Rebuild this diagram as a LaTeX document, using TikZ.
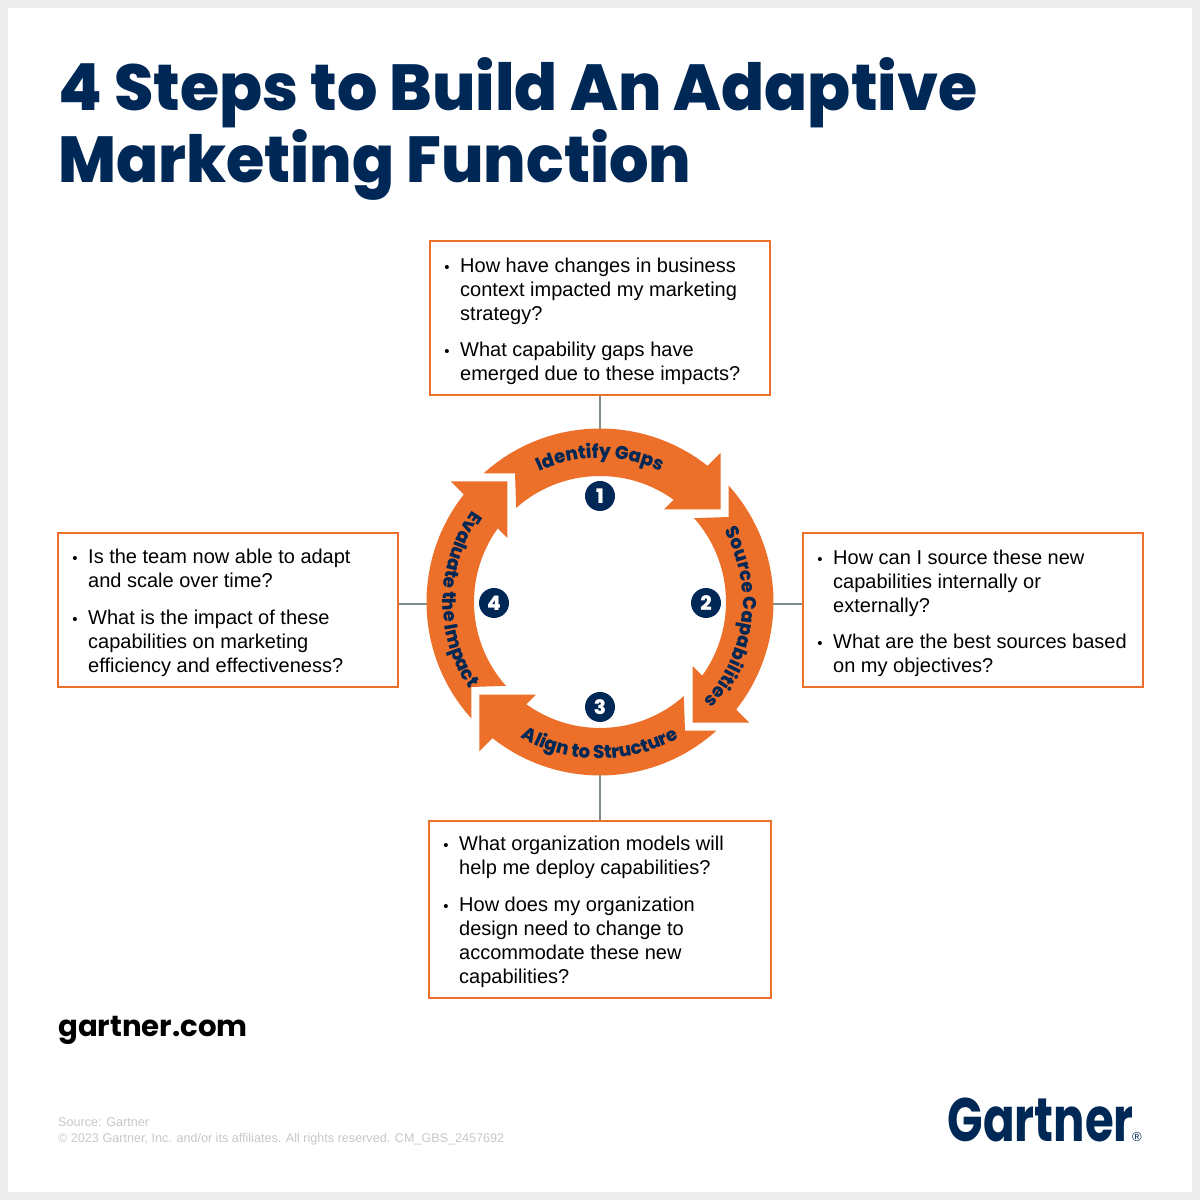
\documentclass[tikz,border=0pt]{standalone}
\usepackage{fontspec}
\usetikzlibrary{decorations.text}
\setmainfont{Liberation Sans}
\newfontfamily\heavy{Poppins}[UprightFont=*-ExtraBold]
\newfontfamily\bolder{Poppins}[UprightFont=*-Bold]
\newfontfamily\semi{Poppins}[UprightFont=*-SemiBold]
\newfontfamily\ringfont{Poppins}[UprightFont=*-ExtraBold,FakeStretch=0.98]
\definecolor{navy}{HTML}{002856}
\definecolor{orng}{HTML}{EC6F2A}
\definecolor{conn}{HTML}{7F8C8F}
\definecolor{foot}{HTML}{C6C8CA}
\definecolor{page}{HTML}{EDEDED}
\newcommand{\bl}{\llap{\scalebox{0.75}{•}\hspace{10.5pt}}}
\newcommand{\arrowshape}{(132.2:173.5) arc[start angle=132.2,end angle=51.7,radius=173.5] -- (120.7,149.3) -- (120.7,92.7) -- (64,92.7) -- (54.2:126) arc[start angle=54.2,end angle=131.7,radius=126] -- (-85,128.7) -- cycle}
\tikzset{
 x=1pt,y=1pt,
 qbox/.style={draw=orng,line width=1.6pt,fill=white,inner sep=0pt,minimum width=#1},
 qtext/.style={anchor=west,align=left,inner sep=0pt,text=black,font=\fontsize{20}{24}\selectfont},
 link/.style={draw=conn,line width=1.3pt},
 ringarrow/.style={fill=orng,draw=none},
 num/.style={circle,fill=navy,text=white,minimum size=30pt,inner sep=0pt,font=\heavy\fontsize{20}{20}\selectfont},
 arctext/.style={decoration={text along path,text align=center,text={|\ringfont\fontsize{18.5}{18.5}\selectfont\color{navy}|#1}},decorate},
}
\begin{document}
\begin{tikzpicture}
\useasboundingbox (0,0) rectangle (1200,1200);
\fill[page] (0,0) rectangle (1200,1200);
\fill[white] (8,8) rectangle (1192,1192);
% title
\node[anchor=base west,inner sep=0pt,text=navy] (t1) at (58,1089) {\scalebox{0.976}[1]{\heavy\fontsize{65}{65}\selectfont 4 Steps to Build An Adaptive}};
\node[anchor=base west,inner sep=0pt,text=navy] (t2) at (58,1017) {\scalebox{0.955}[1]{\heavy\fontsize{65}{65}\selectfont Marketing Function}};
% ring anchor coordinates
\coordinate (c) at (600,598);
\coordinate (ringN) at (600,771);
\coordinate (ringE) at (773,596);
\coordinate (ringS) at (600,425);
\coordinate (ringW) at (427,596);
% boxes
\node[qbox=340pt,minimum height=154pt] (top) at (600,882) {};
\node[qbox=340pt,minimum height=154pt] (right) at (973,590) {};
\node[qbox=340pt,minimum height=154pt] (left) at (228,590) {};
\node[qbox=342pt,minimum height=177pt] (bottom) at (600,290.5) {};
\node[qtext] (toptext) at (460,878.5) {\bl How have changes in business\\context impacted my marketing\\strategy?\\[12.5pt]\bl What capability gaps have\\emerged due to these impacts?};
\node[qtext] (righttext) at (833,586.5) {\bl How can I source these new\\capabilities internally or\\externally?\\[12.5pt]\bl What are the best sources based\\on my objectives?};
\node[qtext] (lefttext) at (88,587) {\bl Is the team now able to adapt\\and scale over time?\\[12.5pt]\bl What is the impact of these\\capabilities on marketing\\efficiency and effectiveness?};
\node[qtext] (bottomtext) at (459,288) {\bl What organization models will\\help me deploy capabilities?\\[12.5pt]\bl How does my organization\\design need to change to\\accommodate these new\\capabilities?};
% connectors
\draw[link] (top.south) -- (ringN);
\draw[link] (bottom.north) -- (ringS);
\draw[link] (left.east |- ringW) -- (ringW);
\draw[link] (right.west |- ringE) -- (ringE);
% ring
\begin{scope}[shift={(c)}]
\fill[ringarrow] \arrowshape;
\fill[ringarrow,rotate=-90] \arrowshape;
\fill[ringarrow,rotate=-180] \arrowshape;
\fill[ringarrow,rotate=-270] \arrowshape;
\path[arctext={Identify Gaps}] (120:144) arc[start angle=120,end angle=60,radius=144];
\path[arctext={Source Capabilities}] (42:143) arc[start angle=42,end angle=-56,radius=143];
\path[arctext={Align to Structure}] (-129:157) arc[start angle=-129,end angle=-51,radius=157];
\path[arctext={Evaluate the Impact}] (143:157) arc[start angle=143,end angle=215,radius=157];
\node[num] (n1) at (0,106) {1};
\node[num] (n2) at (106,-1) {2};
\node[num] (n3) at (0,-105) {3};
\node[num] (n4) at (-106,-1) {4};
\end{scope}
% footer
\node[anchor=base west,inner sep=0pt,text=black] (url) at (58,163) {\bolder\fontsize{29.2}{29.2}\selectfont gartner.com};
\node[anchor=base west,inner sep=0pt,text=foot] (src) at (58,73) {\fontsize{12.6}{12.6}\selectfont Source: Gartner};
\node[anchor=base west,inner sep=0pt,text=foot] (copy) at (58,57) {\fontsize{12.6}{12.6}\selectfont © 2023 Gartner, Inc. and/or its affiliates. All rights reserved. CM\_GBS\_2457692};
\node[anchor=base east,inner sep=0pt,text=navy] (logo) at (1134,58.5) {\scalebox{0.79}[1.04]{\bolder\fontsize{59}{59}\selectfont Gartner}};
\node[anchor=base west,inner sep=0pt,text=navy] (reg) at (1132,58.5) {\fontsize{13}{13}\selectfont ®};
\end{tikzpicture}
\end{document}
